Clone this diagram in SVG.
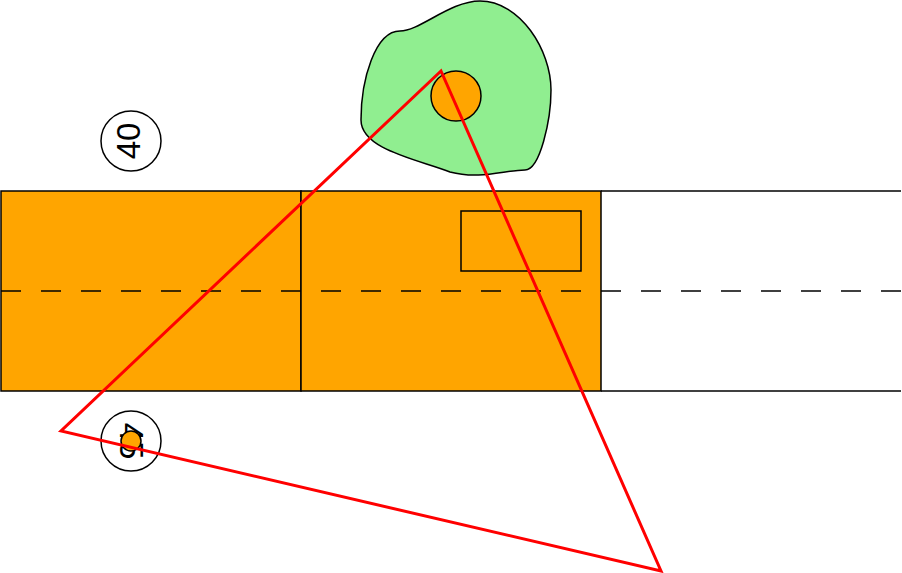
<svg xmlns="http://www.w3.org/2000/svg" width="902" height="573" viewBox="0 0 902 573">
<style>
.sh{stroke:#000;stroke-width:1.5}
.org{fill:#FFA500}
.lbl{font-family:"Liberation Sans",Arial,sans-serif;font-size:33px;fill:#000}
</style>
<rect width="902" height="573" fill="#fff"/>
<g id="lane-left"><rect class="sh org" x="1" y="191" width="300" height="200"/></g>
<g id="lane-mid"><rect class="sh org" x="301" y="191" width="300" height="200"/></g>
<g id="lane-right">
<line class="sh" x1="601" y1="191" x2="901" y2="191"/>
<line class="sh" x1="601" y1="391" x2="901" y2="391"/>
</g>
<g id="divider"><line x1="1" y1="291" x2="901" y2="291" stroke="#000" stroke-width="1.5" stroke-dasharray="20 20"/></g>
<g id="box"><rect x="461" y="211" width="120" height="60" fill="none" class="sh"/></g>
<g id="blob">
<path class="sh" fill="#90EE90" d="M 400 31 C 420 31, 450 1, 480 1 C 520 1, 551 50, 551 90 C 551 120, 540 170, 525 170 C 505 170, 480 180, 450 172 C 420 160, 361 150, 361 120 C 361 80, 375 31, 400 31 Z"/>
<circle class="sh org" cx="456" cy="96" r="25"/>
</g>
<g id="label-40">
<circle class="sh" fill="#fff" cx="131" cy="141" r="30"/>
<text class="lbl" x="131" y="141" text-anchor="middle" dominant-baseline="central" transform="translate(-2.5 0) rotate(-90 131 141)">40</text>
</g>
<g id="label-45">
<circle class="sh" fill="#fff" cx="131" cy="441" r="30"/>
<text class="lbl" x="131" y="441" text-anchor="middle" dominant-baseline="central" transform="rotate(90 131 441)">45</text>
<circle class="sh org" cx="131" cy="441" r="10"/>
</g>
<g id="connectors">
<polygon points="441,71 661,571 61,431" fill="none" stroke="#FF0000" stroke-width="3"/>
</g>
</svg>
